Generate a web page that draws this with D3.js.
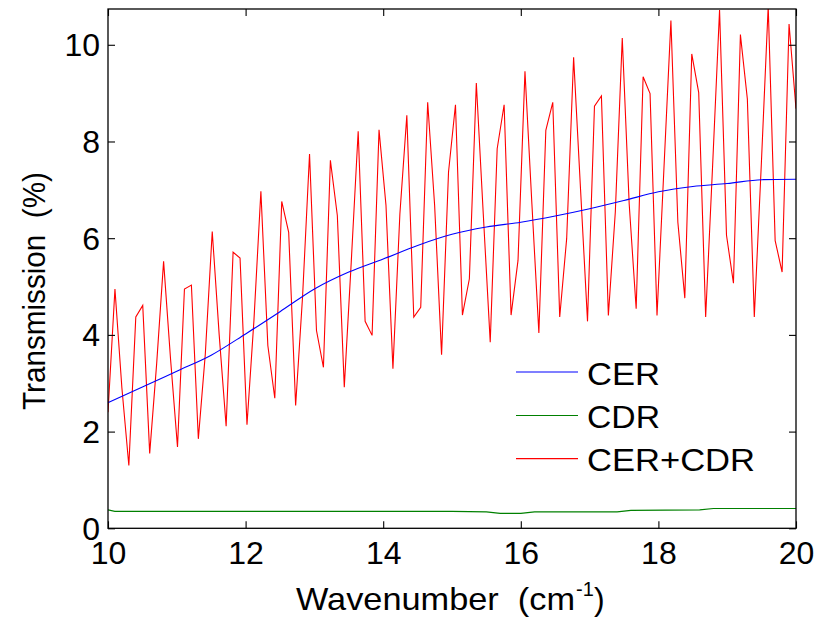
<!DOCTYPE html>
<html>
<head>
<meta charset="utf-8">
<script src="https://cdn.jsdelivr.net/npm/d3@7"></script>
<style>
  html, body { margin: 0; padding: 0; background: #fff; }
  svg { display: block; }
  text { font-family: "Liberation Sans", Arial, Helvetica, sans-serif; fill: #000; }
</style>
</head>
<body>
<svg id="chart" width="828" height="619"></svg>
<script>
// ---- data ----
const wnStart = 10, wnEnd = 20;
const xTicks = [10, 12, 14, 16, 18, 20];
const yTicks = [0, 2, 4, 6, 8, 10];
const seriesNames = ["CER", "CDR", "CER+CDR"];
const seriesColors = ["#0000ff", "#008000", "#ff0000"];

// CER (blue) read at 0.5 cm^-1 steps
const cerX = [10, 10.5, 11, 11.5, 12, 12.5, 13, 13.5, 14, 14.5, 15, 15.5, 16, 16.5, 17, 17.5, 18, 18.5, 19, 19.5, 20];
const cerY = [2.60, 2.92, 3.25, 3.58, 4.02, 4.48, 4.95, 5.30, 5.57, 5.85, 6.08, 6.23, 6.33, 6.46, 6.61, 6.78, 6.96, 7.07, 7.13, 7.21, 7.22];

// CDR (green)
const cdrX = [10, 10.1, 10.2, 15.0, 15.5, 15.7, 16.0, 16.2, 17.4, 17.6, 18.6, 18.8, 20];
const cdrY = [0.38, 0.35, 0.35, 0.35, 0.34, 0.31, 0.31, 0.34, 0.34, 0.37, 0.38, 0.41, 0.41];

// CER+CDR (red), 100 samples evenly spaced from 10 to 20
const sumY = [2.40,4.95,2.90,1.30,4.37,4.61,1.55,3.40,5.52,3.50,
              1.68,4.95,5.03,1.85,3.60,6.14,4.00,2.11,5.71,5.59,
              2.14,4.30,6.97,3.78,2.69,6.76,6.12,2.54,4.80,7.74,
              4.09,3.33,7.61,6.47,2.92,5.50,8.21,4.28,3.99,8.24,
              6.68,3.30,6.50,8.54,4.37,4.57,8.81,6.68,3.59,7.37,
              8.76,4.41,5.16,9.21,6.50,3.85,7.85,8.76,4.41,5.54,
              9.45,6.70,4.04,8.23,8.81,4.37,5.99,9.74,7.00,4.28,
              8.73,8.94,4.40,6.54,10.14,6.70,4.54,9.34,8.99,4.40,
              7.45,10.50,6.33,4.76,9.81,9.01,4.37,7.50,10.72,6.06,
              5.07,10.21,8.88,4.37,7.50,10.80,5.95,5.30,10.43,8.68];
const sumX = sumY.map((_, i) => wnStart + i * (wnEnd - wnStart) / (sumY.length - 1));

// ---- layout ----
const svg = d3.select("#chart");
const L = 108, R = 796, T = 9, B = 528.3;
const x = d3.scaleLinear().domain([10, 20]).range([L, R]);
const y = d3.scaleLinear().domain([0, 10.74]).range([B, T]);
const FS = 32;

svg.append("rect").attr("width", 828).attr("height", 619).attr("fill", "#fff");

svg.append("clipPath").attr("id", "clip")
  .append("rect").attr("x", L).attr("y", T).attr("width", R - L).attr("height", B - T);

const line = d3.line().x(d => x(d[0])).y(d => y(d[1]));
const plot = svg.append("g").attr("clip-path", "url(#clip)");

const toPts = (xs, ys) => xs.map((v, i) => [v, ys[i]]);
plot.append("path").datum(toPts(cdrX, cdrY)).attr("d", line)
  .attr("fill", "none").attr("stroke", seriesColors[1]).attr("stroke-width", 1.2);
plot.append("path").datum(toPts(sumX, sumY)).attr("d", line)
  .attr("fill", "none").attr("stroke", seriesColors[2]).attr("stroke-width", 1.1)
  .attr("stroke-linejoin", "miter");
plot.append("path").datum(toPts(cerX, cerY)).attr("d", d3.line().curve(d3.curveMonotoneX).x(d => x(d[0])).y(d => y(d[1])))
  .attr("fill", "none").attr("stroke", seriesColors[0]).attr("stroke-width", 1.1);

// ---- axes ----
function styleAxis(g) {
  g.select(".domain").remove();
  g.selectAll(".tick line").attr("stroke", "#000").attr("stroke-width", 1.1);
  g.selectAll("text").attr("font-size", FS).attr("font-family", "Liberation Sans, Arial, sans-serif").attr("fill", "#000");
}
svg.append("g").attr("transform", `translate(0,${B})`)
  .call(d3.axisBottom(x).tickValues(xTicks).tickSize(-7).tickPadding(13).tickFormat(d3.format("d")))
  .call(styleAxis);
svg.append("g").attr("transform", `translate(0,${T})`)
  .call(d3.axisTop(x).tickValues(xTicks).tickSize(-7).tickFormat(""))
  .call(styleAxis);
svg.append("g").attr("transform", `translate(${L},0)`)
  .call(d3.axisLeft(y).tickValues(yTicks).tickSize(-7).tickPadding(8).tickFormat(d3.format("d")))
  .call(styleAxis)
  .selectAll("text").attr("dy", "0.34em");
svg.append("g").attr("transform", `translate(${R},0)`)
  .call(d3.axisRight(y).tickValues(yTicks).tickSize(-7).tickFormat(""))
  .call(styleAxis);

svg.append("rect").attr("x", L).attr("y", T).attr("width", R - L).attr("height", B - T)
  .attr("fill", "none").attr("stroke", "#000").attr("stroke-width", 1.3);

// ---- axis labels ----
const xl = svg.append("text").attr("x", 296).attr("y", 610)
  .attr("text-anchor", "start").attr("font-size", FS);
xl.append("tspan").attr("textLength", 279).attr("lengthAdjust", "spacingAndGlyphs")
  .text("Wavenumber\u00a0\u00a0(cm");
xl.append("tspan").attr("x", 576).attr("font-size", 20).attr("dy", -14).text("-1");
xl.append("tspan").attr("x", 594).attr("dy", 14).text(")");

svg.append("text")
  .attr("transform", `translate(45,291) rotate(-90)`)
  .attr("text-anchor", "middle").attr("font-size", FS)
  .attr("textLength", 238).attr("lengthAdjust", "spacingAndGlyphs")
  .text("Transmission\u00a0\u00a0(%)");

// ---- legend ----
const legY = [372, 415.5, 458.6];
const legW = [73, 73, 168];
const leg = svg.append("g");
seriesNames.forEach((name, i) => {
  leg.append("line").attr("x1", 516).attr("x2", 578).attr("y1", legY[i]).attr("y2", legY[i])
    .attr("stroke", seriesColors[i]).attr("stroke-width", 1.2);
  leg.append("text").attr("x", 587).attr("y", legY[i]).attr("dy", "0.4em")
    .attr("font-size", FS).attr("textLength", legW[i]).attr("lengthAdjust", "spacingAndGlyphs")
    .text(name);
});
</script>
</body>
</html>
